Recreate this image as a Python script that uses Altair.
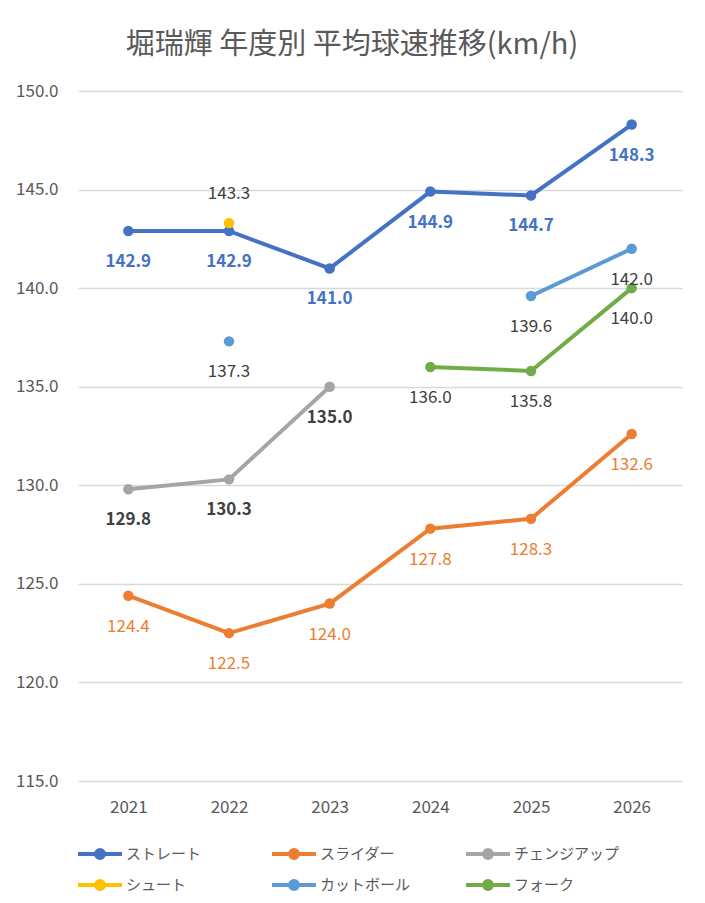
import altair as alt
import pandas as pd

years = ["2021", "2022", "2023", "2024", "2025", "2026"]
series = ["ストレート", "スライダー", "チェンジアップ", "シュート", "カットボール", "フォーク"]
straight = [142.9, 142.9, 141.0, 144.9, 144.7, 148.3]
slider = [124.4, 122.5, 124.0, 127.8, 128.3, 132.6]
changeup = [129.8, 130.3, 135.0, None, None, None]
shoot = [None, 143.3, None, None, None, None]
cutter = [None, 137.3, None, None, 139.6, 142.0]
fork = [None, None, None, 136.0, 135.8, 140.0]
values = [straight, slider, changeup, shoot, cutter, fork]

line_colors = ["#4472C4", "#ED7D31", "#A5A5A5", "#FFC000", "#5B9BD5", "#70AD47"]
label_colors = ["#4472C4", "#ED7D31", "#404040", "#404040", "#404040", "#404040"]

rows = []
for name, vals in zip(series, values):
    seg = 0
    prev = False
    for yr, v in zip(years, vals):
        if v is None:
            if prev:
                seg += 1
            prev = False
            continue
        rows.append({"year": yr, "series": name, "value": v, "seg": f"{name}-{seg}"})
        prev = True
df = pd.DataFrame(rows)

FONT = "Noto Sans CJK JP"

x = alt.X("year:O", sort=years, scale=alt.Scale(type="point", padding=0.5),
          axis=alt.Axis(title=None, labelAngle=0, domain=False, ticks=False, grid=False,
                        labelPadding=18, labelFontSize=17, labelColor="#595959", labelFont=FONT))
y = alt.Y("value:Q", scale=alt.Scale(domain=[115, 150], nice=False, zero=False),
          axis=alt.Axis(title=None, values=[115, 120, 125, 130, 135, 140, 145, 150], format=".1f",
                        domain=False, ticks=False, labelPadding=20, labelFontSize=17,
                        labelColor="#595959", labelFont=FONT, gridColor="#D9D9D9", gridWidth=1.3))

sym_path = ("M-1,0L3.4,0"
            "M1.0,0A0.2,0.2 0 1,0 1.4,0A0.2,0.2 0 1,0 1.0,0"
            "M0.8,0A0.4,0.4 0 1,0 1.6,0A0.4,0.4 0 1,0 0.8,0")

color_line = alt.Color("series:N", sort=series,
                       scale=alt.Scale(domain=series, range=line_colors),
                       legend=alt.Legend(title=None, orient="none", legendX=-2, legendY=751,
                                         direction="horizontal", columns=3, gridAlign="all",
                                         columnPadding=32, rowPadding=7, symbolType=sym_path,
                                         symbolSize=400, symbolStrokeWidth=4, labelOffset=26,
                                         labelFontSize=15, labelFont=FONT, labelColor="#595959",
                                         padding=0, labelLimit=200))
color_pt = alt.Color("series:N", sort=series,
                     scale=alt.Scale(domain=series, range=line_colors), legend=None)
fill_txt = alt.Fill("series:N", scale=alt.Scale(domain=series, range=label_colors), legend=None)

base = alt.Chart(df)

lines = base.mark_line(strokeWidth=4).encode(x=x, y=y, color=color_line, detail="seg:N")
points = base.mark_point(filled=True, size=110, opacity=1).encode(x=x, y=y, color=color_pt)

bold_lbl = base.transform_filter(
    alt.FieldOneOfPredicate(field="series", oneOf=["ストレート", "チェンジアップ"])
).mark_text(dy=31, fontSize=17, fontWeight="bold", font=FONT, baseline="middle").encode(
    x=x, y=y, text=alt.Text("value:Q", format=".1f"), fill=fill_txt)

reg_lbl = base.transform_filter(
    alt.FieldOneOfPredicate(field="series", oneOf=["スライダー", "カットボール", "フォーク"])
).mark_text(dy=31, fontSize=17, font=FONT, baseline="middle").encode(
    x=x, y=y, text=alt.Text("value:Q", format=".1f"), fill=fill_txt)

up_lbl = base.transform_filter(
    alt.FieldOneOfPredicate(field="series", oneOf=["シュート"])
).mark_text(dy=-29, fontSize=17, font=FONT, baseline="middle").encode(
    x=x, y=y, text=alt.Text("value:Q", format=".1f"), fill=fill_txt)

chart = alt.layer(lines, points, bold_lbl, reg_lbl, up_lbl).properties(
    width=604, height=690,
    title=alt.TitleParams("堀瑞輝 年度別 平均球速推移(km/h)", fontSize=29, font=FONT,
                          color="#595959", fontWeight="normal", anchor="middle", dx=-28, offset=22),
    autosize=alt.AutoSizeParams(type="none"),
    padding={"left": 70, "top": 83, "right": 15, "bottom": 114},
    background="white",
).configure_view(stroke=None)

chart.save("out.html", embed_options={"renderer": "svg", "actions": False})
